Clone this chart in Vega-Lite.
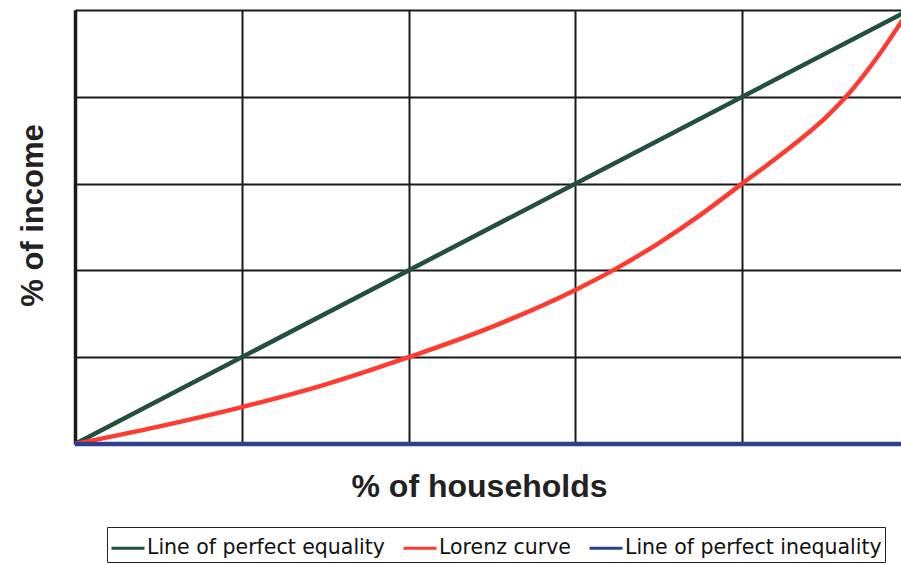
{
  "$schema": "https://vega.github.io/schema/vega-lite/v6.json",
  "autosize": "none",
  "width": 834,
  "height": 434,
  "padding": {"left": 75, "top": 10, "right": 0, "bottom": 121},
  "background": "white",
  "config": {
    "view": {"stroke": null},
    "font": "Liberation Sans"
  },
  "data": {
    "values": [
      {"series": "Line of perfect equality", "x": 0, "y": 0},
      {"series": "Line of perfect equality", "x": 1, "y": 1},
      {"series": "Lorenz curve", "x": 0, "y": 0},
      {"series": "Lorenz curve", "x": 0.1, "y": 0.04},
      {"series": "Lorenz curve", "x": 0.2, "y": 0.085},
      {"series": "Lorenz curve", "x": 0.3, "y": 0.137},
      {"series": "Lorenz curve", "x": 0.4, "y": 0.2},
      {"series": "Lorenz curve", "x": 0.5, "y": 0.27},
      {"series": "Lorenz curve", "x": 0.6, "y": 0.355},
      {"series": "Lorenz curve", "x": 0.645, "y": 0.4},
      {"series": "Lorenz curve", "x": 0.7, "y": 0.463},
      {"series": "Lorenz curve", "x": 0.75, "y": 0.528},
      {"series": "Lorenz curve", "x": 0.8, "y": 0.6},
      {"series": "Lorenz curve", "x": 0.85, "y": 0.672},
      {"series": "Lorenz curve", "x": 0.9, "y": 0.752},
      {"series": "Lorenz curve", "x": 0.923, "y": 0.797},
      {"series": "Lorenz curve", "x": 0.96, "y": 0.886},
      {"series": "Lorenz curve", "x": 1, "y": 1},
      {"series": "Line of perfect inequality", "x": 0, "y": 0},
      {"series": "Line of perfect inequality", "x": 1, "y": 0}
    ]
  },
  "mark": {"type": "line", "strokeWidth": 4.5, "clip": false, "interpolate": "monotone"},
  "encoding": {
    "x": {
      "field": "x", "type": "quantitative",
      "scale": {"domain": [0, 1], "nice": false, "zero": false},
      "axis": {
        "title": "% of households",
        "values": [0, 0.2, 0.4, 0.6, 0.8, 1],
        "labels": false, "ticks": false,
        "domain": true, "domainColor": "#1a1a1a", "domainWidth": 3,
        "grid": true, "gridColor": "#1a1a1a", "gridWidth": 2, "gridOpacity": 1,
        "titleFont": "Liberation Sans", "titleFontSize": 32, "titleFontWeight": "bold",
        "titleColor": "#222222",
        "titleX": 404, "titleY": 52, "titleBaseline": "alphabetic", "titleAlign": "center"
      }
    },
    "y": {
      "field": "y", "type": "quantitative",
      "scale": {"domain": [0, 1], "nice": false, "zero": false},
      "axis": {
        "title": "% of income",
        "values": [0, 0.2, 0.4, 0.6, 0.8, 1],
        "labels": false, "ticks": false,
        "domain": true, "domainColor": "#1a1a1a", "domainWidth": 3.5,
        "grid": true, "gridColor": "#1a1a1a", "gridWidth": 2, "gridOpacity": 1,
        "titleFont": "Liberation Sans", "titleFontSize": 31, "titleFontWeight": "bold",
        "titleColor": "#222222",
        "titleAngle": -90, "titleX": -33, "titleY": 205,
        "titleBaseline": "alphabetic", "titleAlign": "center"
      }
    },
    "color": {
      "field": "series", "type": "nominal",
      "scale": {
        "domain": ["Line of perfect equality", "Lorenz curve", "Line of perfect inequality"],
        "range": ["#22503c", "#ff3a2e", "#2e3f8f"]
      },
      "legend": {
        "title": null,
        "orient": "none",
        "direction": "horizontal",
        "legendX": 32,
        "legendY": 517,
        "symbolType": "stroke",
        "symbolStrokeWidth": 3,
        "symbolSize": 1089,
        "labelFont": "DejaVu Sans",
        "labelFontSize": 20.5,
        "labelColor": "#111111",
        "labelOffset": 1,
        "labelLimit": 400,
        "columnPadding": 12,
        "padding": 3,
        "strokeColor": "#222222",
        "fillColor": "white"
      }
    },
    "order": {"field": "x", "type": "quantitative"}
  }
}
